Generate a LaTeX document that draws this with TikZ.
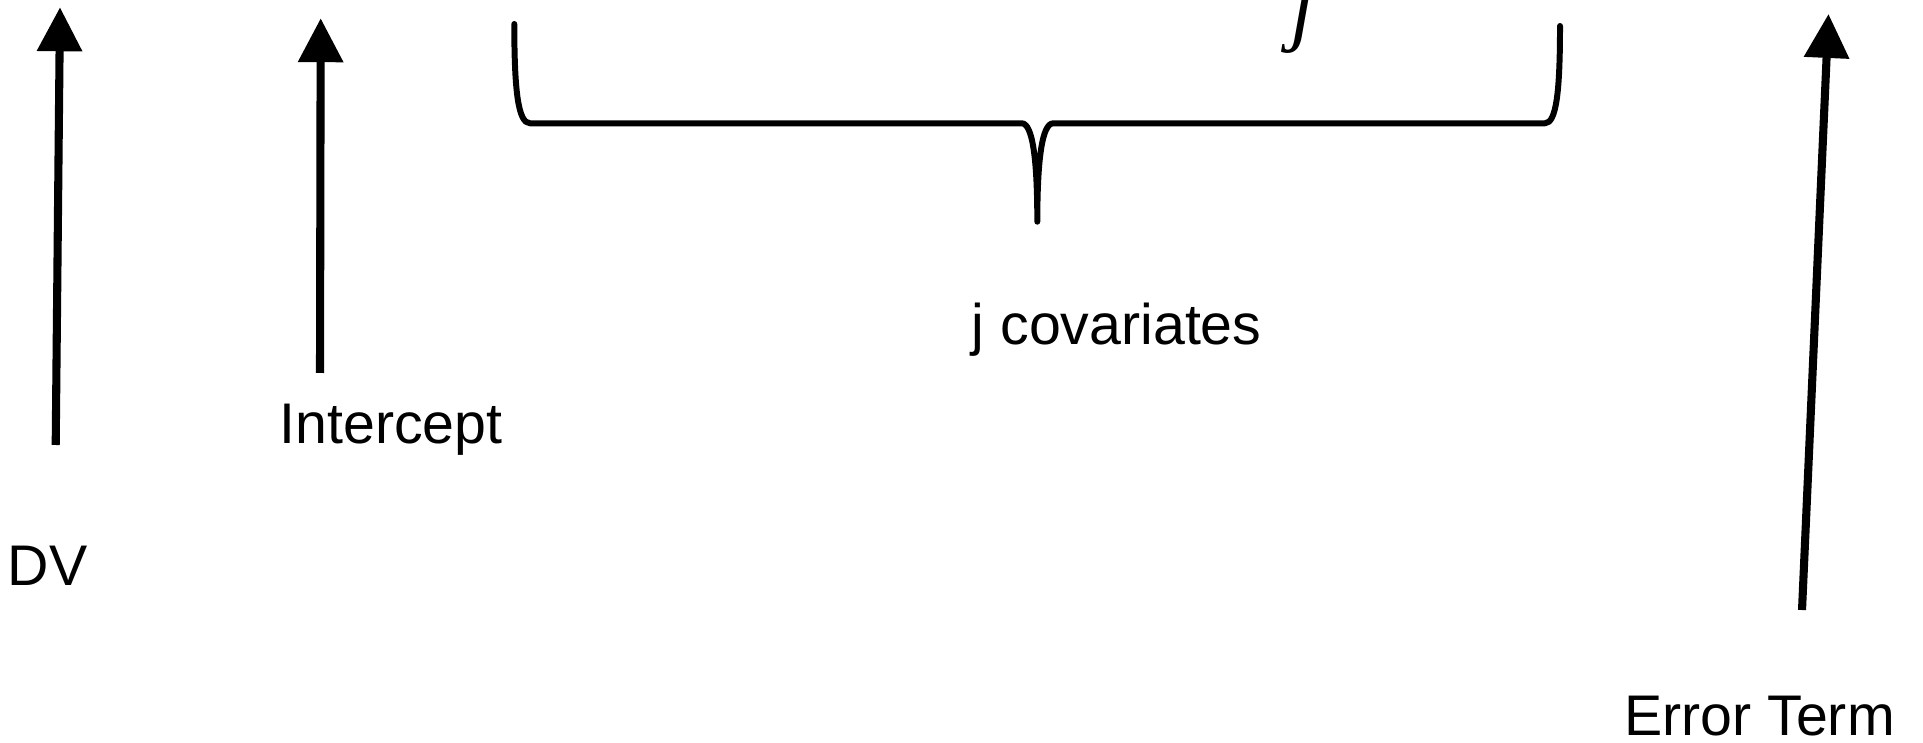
\documentclass[tikz,border=0pt]{standalone}
\usepackage{fontspec}
\setmainfont{Liberation Sans}
\newfontfamily\timesit{Liberation Serif}
\usepackage{tikz}
\usetikzlibrary{arrows.meta}

\begin{document}
\begin{tikzpicture}[
    termarrow/.style={-{Triangle[width=12.4pt,length=12.5pt]},line width=2.3pt},
    bracepath/.style={line width=1.7pt,line cap=round,line join=round},
    lbl/.style={font=\fontsize{16.3}{19}\selectfont,inner sep=0pt,anchor=base}]
        \useasboundingbox (0,0) rectangle (19.23,7.42);
        \clip (0,0) rectangle (19.23,7.42);
        % labels
        \node[lbl] (dv) at (0.475,1.563) {DV};
        \node[lbl] (icpt) at (3.91,2.987) {Intercept};
        \node[lbl] (cov) at (11.167,3.97) {j covariates};
        \node[lbl] (err) at (17.595,0.07) {Error Term};
        \node[inner sep=0pt,anchor=base,font=\fontsize{24}{28}\selectfont\timesit\itshape] (jsub) at (13.02,7.06) {j};
        % arrow ends
        \coordinate (dvbot) at (0.557,2.97);
        \coordinate (dvtip) at (0.60,7.347);
        \coordinate (icptbot) at (3.20,3.69);
        \coordinate (icpttip) at (3.207,7.237);
        \coordinate (errbot) at (18.02,1.32);
        \coordinate (errtip) at (18.285,7.28);
        \draw[termarrow] (dvbot) -- (dvtip);
        \draw[termarrow] (icptbot) -- (icpttip);
        \draw[termarrow] (errbot) -- (errtip);
        % brace over the covariates
        \coordinate (bl) at (5.143,7.18);
        \coordinate (br) at (15.60,7.16);
        \coordinate (bmid) at (10.373,5.203);
        \draw[bracepath] (bl) .. controls (5.143,6.52) and (5.18,6.187) .. (5.30,6.187)
            -- (10.217,6.187) .. controls (10.33,6.187) and (10.373,5.8) .. (bmid)
            .. controls (10.373,5.8) and (10.416,6.187) .. (10.533,6.187)
            -- (15.45,6.187) .. controls (15.565,6.187) and (15.60,6.52) .. (br);
    \end{tikzpicture}
\end{document}
